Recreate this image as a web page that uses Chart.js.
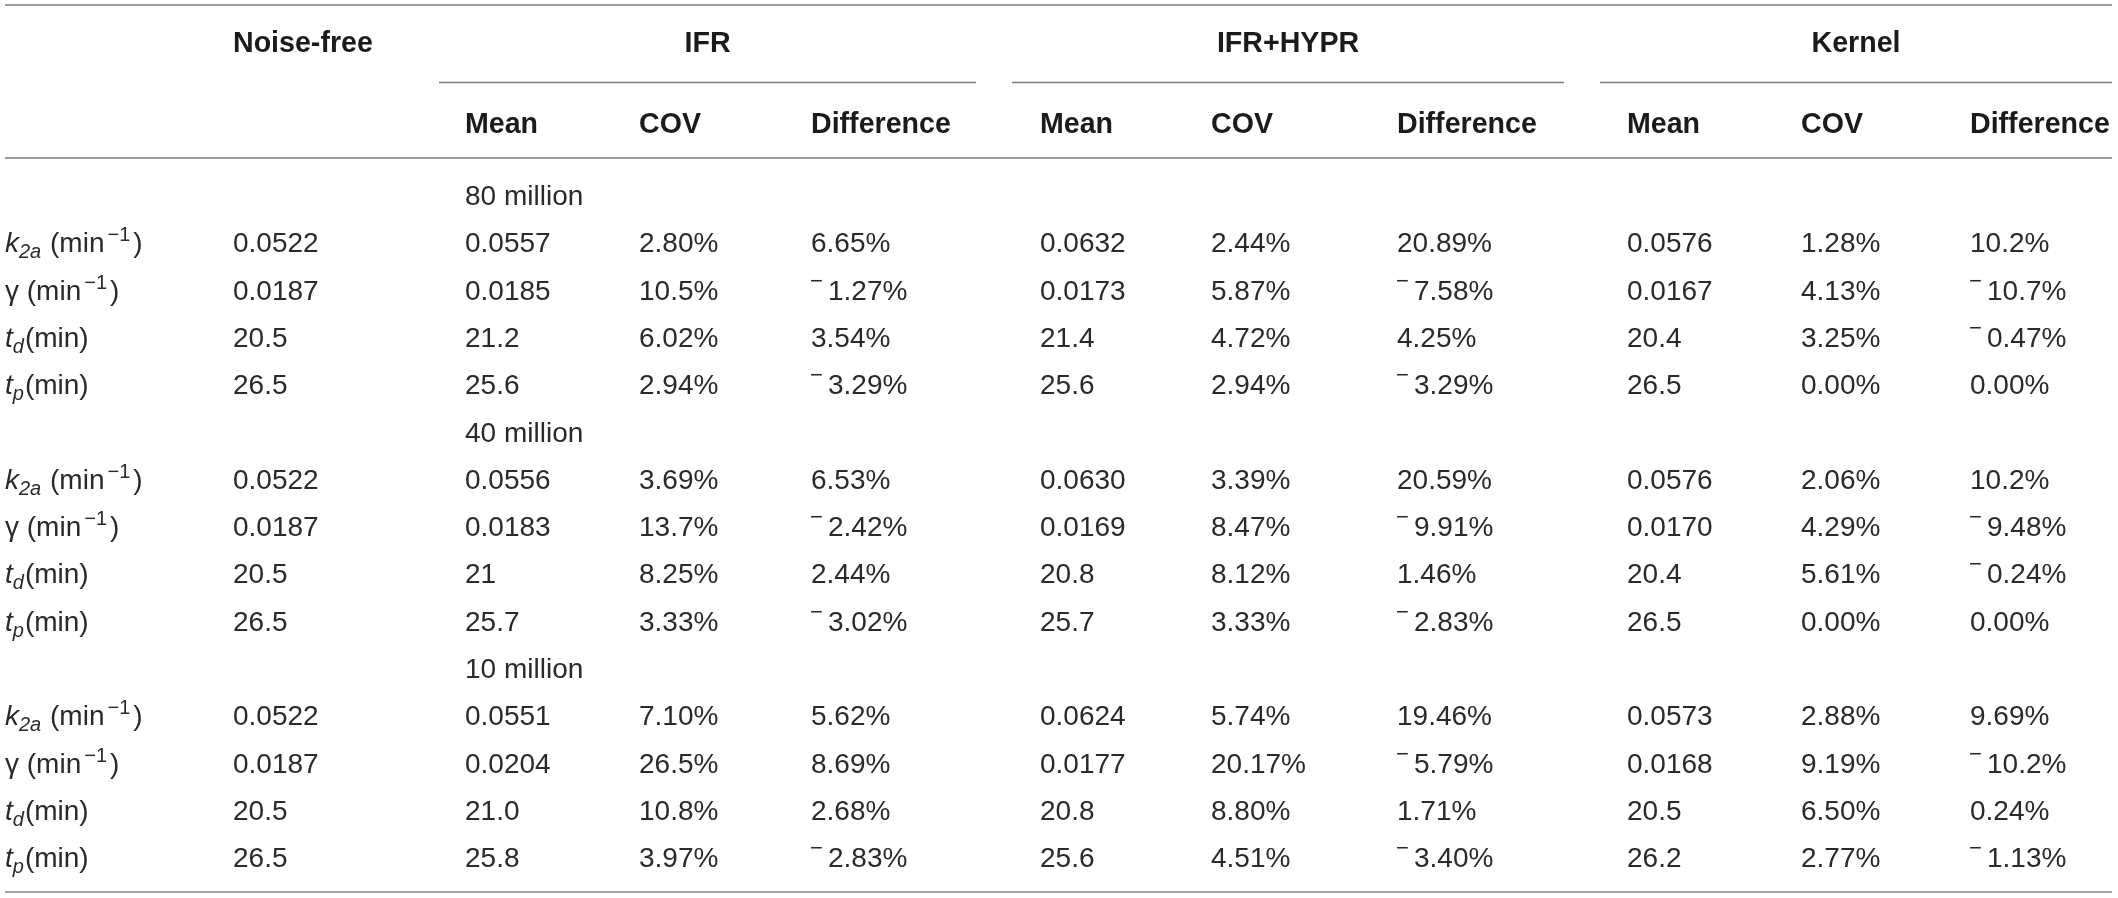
<!DOCTYPE html>
<html><head><meta charset="utf-8">
<script src="https://cdn.jsdelivr.net/npm/chart.js@4/dist/chart.umd.min.js"></script>
<style>html,body{margin:0;padding:0;background:#fff;overflow:hidden}canvas{display:block}</style>
</head><body>
<canvas id="c" width="2118" height="898"></canvas>
<script>
// ---------- DATA ----------
const groupLabels = ['80 million', '40 million', '10 million'];
const paramKeys = ['k2a', 'gamma', 'td', 'tp'];
const methods = ['IFR', 'IFR+HYPR', 'Kernel'];
const subHeaders = ['Mean', 'COV', 'Difference'];
const noiseFreeHeader = 'Noise-free';

const noiseFree = ['0.0522','0.0187','20.5','26.5','0.0522','0.0187','20.5','26.5','0.0522','0.0187','20.5','26.5'];
const ifrMean  = ['0.0557','0.0185','21.2','25.6','0.0556','0.0183','21','25.7','0.0551','0.0204','21.0','25.8'];
const ifrCov   = ['2.80%','10.5%','6.02%','2.94%','3.69%','13.7%','8.25%','3.33%','7.10%','26.5%','10.8%','3.97%'];
const ifrDiff  = ['6.65%','−1.27%','3.54%','−3.29%','6.53%','−2.42%','2.44%','−3.02%','5.62%','8.69%','2.68%','−2.83%'];
const hyprMean = ['0.0632','0.0173','21.4','25.6','0.0630','0.0169','20.8','25.7','0.0624','0.0177','20.8','25.6'];
const hyprCov  = ['2.44%','5.87%','4.72%','2.94%','3.39%','8.47%','8.12%','3.33%','5.74%','20.17%','8.80%','4.51%'];
const hyprDiff = ['20.89%','−7.58%','4.25%','−3.29%','20.59%','−9.91%','1.46%','−2.83%','19.46%','−5.79%','1.71%','−3.40%'];
const kerMean  = ['0.0576','0.0167','20.4','26.5','0.0576','0.0170','20.4','26.5','0.0573','0.0168','20.5','26.2'];
const kerCov   = ['1.28%','4.13%','3.25%','0.00%','2.06%','4.29%','5.61%','0.00%','2.88%','9.19%','6.50%','2.77%'];
const kerDiff  = ['10.2%','−10.7%','−0.47%','0.00%','10.2%','−9.48%','−0.24%','0.00%','9.69%','−10.2%','0.24%','−1.13%'];

// ---------- LAYOUT (design units) ----------
const W = 2118, H = 898;
const colLabel = 5, colNoise = 233;
const colMean = [465, 1040, 1627], colCov = [639, 1211, 1801], colDiff = [811, 1397, 1970];
const spanRules = [[439, 976], [1012, 1564], [1600, 2112]];
const headY = 42, subY = 123, spanRuleY = 82.5;
const fullRules = [{y: 5, w: 1.4, c: '#7d7d7d'}, {y: 158, w: 1.4, c: '#7d7d7d'}, {y: 892, w: 2, c: '#a6a6a6'}];
const ruleX0 = 5, ruleX1 = 2112;
const rowTop = 195, rowStep = 47.3;
const FONT = '"Liberation Sans", Arial, Helvetica, sans-serif';
const TXT = '#2b2929';

// ---------- build datasets ----------
const rowY = r => rowTop + rowStep * r;
function paramRowIndex(k) {
  const g = Math.floor(k / 4), p = k % 4;
  return g * 5 + 1 + p;
}
function column(xPos, values, style) {
  return {
    data: values.map((v, k) => ({x: xPos, y: rowY(paramRowIndex(k))})),
    texts: values.slice(), style
  };
}
const datasets = [];
datasets.push({data: [{x: colNoise, y: headY}], texts: [noiseFreeHeader], style: 'head'});
methods.forEach((m, i) => datasets.push({data: [{x: (spanRules[i][0] + spanRules[i][1]) / 2, y: headY}], texts: [m], style: 'headc'}));
methods.forEach((m, i) => {
  const xs = [colMean[i], colCov[i], colDiff[i]];
  datasets.push({data: xs.map(x => ({x, y: subY})), texts: subHeaders.slice(), style: 'head'});
});
datasets.push({data: groupLabels.map((g, i) => ({x: colMean[0], y: rowY(i * 5)})), texts: groupLabels.slice(), style: 'body'});
const paramAll = [].concat(paramKeys, paramKeys, paramKeys);
datasets.push(column(colLabel, paramAll, 'param'));
datasets.push(column(colNoise, noiseFree, 'body'));
[[ifrMean, ifrCov, ifrDiff], [hyprMean, hyprCov, hyprDiff], [kerMean, kerCov, kerDiff]].forEach((cols, i) => {
  datasets.push(column(colMean[i], cols[0], 'body'));
  datasets.push(column(colCov[i], cols[1], 'body'));
  datasets.push(column(colDiff[i], cols[2], 'body'));
});
datasets.forEach(d => { d.pointRadius = 0; d.pointHoverRadius = 0; d.showLine = false; });

// ---------- drawing helpers ----------
const paramParts = {
  k2a: [{t: 'k', it: 1}, {t: '2a', it: 1, sub: 1}, {t: ' (min'}, {t: '−1', sup: 1}, {t: ')'}],
  gamma: [{t: 'γ'}, {t: ' (min'}, {t: '−1', sup: 1}, {t: ')'}],
  td: [{t: 't', it: 1}, {t: 'd', it: 1, sub: 1}, {t: '(min)'}],
  tp: [{t: 't', it: 1}, {t: 'p', it: 1, sub: 1}, {t: '(min)'}]
};
function drawParts(ctx, parts, x, base) {
  parts.forEach(p => {
    const size = (p.sub || p.sup) ? 20 : 28;
    ctx.font = (p.it ? 'italic ' : '') + size + 'px ' + FONT;
    const dy = p.sub ? 6 : (p.sup ? -11 : 0);
    if (p.sup) x += 3;
    ctx.fillText(p.t, x, base + dy);
    x += ctx.measureText(p.t).width + (p.sub ? 1 : 0) + (p.sup ? 3 : 0);
  });
}
function drawValue(ctx, s, x, base) {
  if (s.charAt(0) === '−') {
    ctx.font = '22px ' + FONT;
    ctx.fillText('−', x - 1, base - 12);
    ctx.font = '28px ' + FONT;
    ctx.fillText(s.slice(1), x + 17, base);
  } else {
    ctx.font = '28px ' + FONT;
    ctx.fillText(s, x, base);
  }
}

const tablePlugin = {
  id: 'tableText',
  beforeDatasetsDraw(chart) {
    const ctx = chart.ctx, xs = chart.scales.x, ys = chart.scales.y;
    ctx.save();
    fullRules.forEach(r => {
      ctx.strokeStyle = r.c; ctx.lineWidth = r.w;
      ctx.beginPath();
      ctx.moveTo(xs.getPixelForValue(ruleX0), ys.getPixelForValue(r.y));
      ctx.lineTo(xs.getPixelForValue(ruleX1), ys.getPixelForValue(r.y));
      ctx.stroke();
    });
    ctx.strokeStyle = '#7d7d7d'; ctx.lineWidth = 1.4;
    spanRules.forEach(s => {
      ctx.beginPath();
      ctx.moveTo(xs.getPixelForValue(s[0]), ys.getPixelForValue(spanRuleY));
      ctx.lineTo(xs.getPixelForValue(s[1]), ys.getPixelForValue(spanRuleY));
      ctx.stroke();
    });
    ctx.restore();
  },
  afterDatasetsDraw(chart) {
    const ctx = chart.ctx;
    ctx.save();
    ctx.fillStyle = TXT;
    ctx.textBaseline = 'alphabetic';
    chart.data.datasets.forEach((ds, i) => {
      const meta = chart.getDatasetMeta(i);
      meta.data.forEach((pt, j) => {
        const s = ds.texts[j];
        const x = pt.x, y = pt.y;
        if (ds.style === 'head' || ds.style === 'headc') {
          ctx.font = 'bold 28.6px ' + FONT;
          ctx.fillStyle = '#1c1a1a';
          ctx.textAlign = ds.style === 'headc' ? 'center' : 'left';
          ctx.fillText(s, x, y + 10);
          ctx.fillStyle = TXT;
          ctx.textAlign = 'left';
        } else if (ds.style === 'param') {
          ctx.textAlign = 'left';
          drawParts(ctx, paramParts[s], x, y + 10);
        } else {
          ctx.textAlign = 'left';
          drawValue(ctx, s, x, y + 10);
        }
      });
    });
    ctx.restore();
  }
};

new Chart(document.getElementById('c'), {
  type: 'scatter',
  data: {datasets},
  options: {
    responsive: false, animation: false, devicePixelRatio: 1,
    layout: {padding: 0},
    plugins: {legend: {display: false}, tooltip: {enabled: false}},
    events: [],
    scales: {
      x: {type: 'linear', min: 0, max: W, display: false},
      y: {type: 'linear', min: 0, max: H, reverse: true, display: false}
    }
  },
  plugins: [tablePlugin]
});
</script>
</body></html>
